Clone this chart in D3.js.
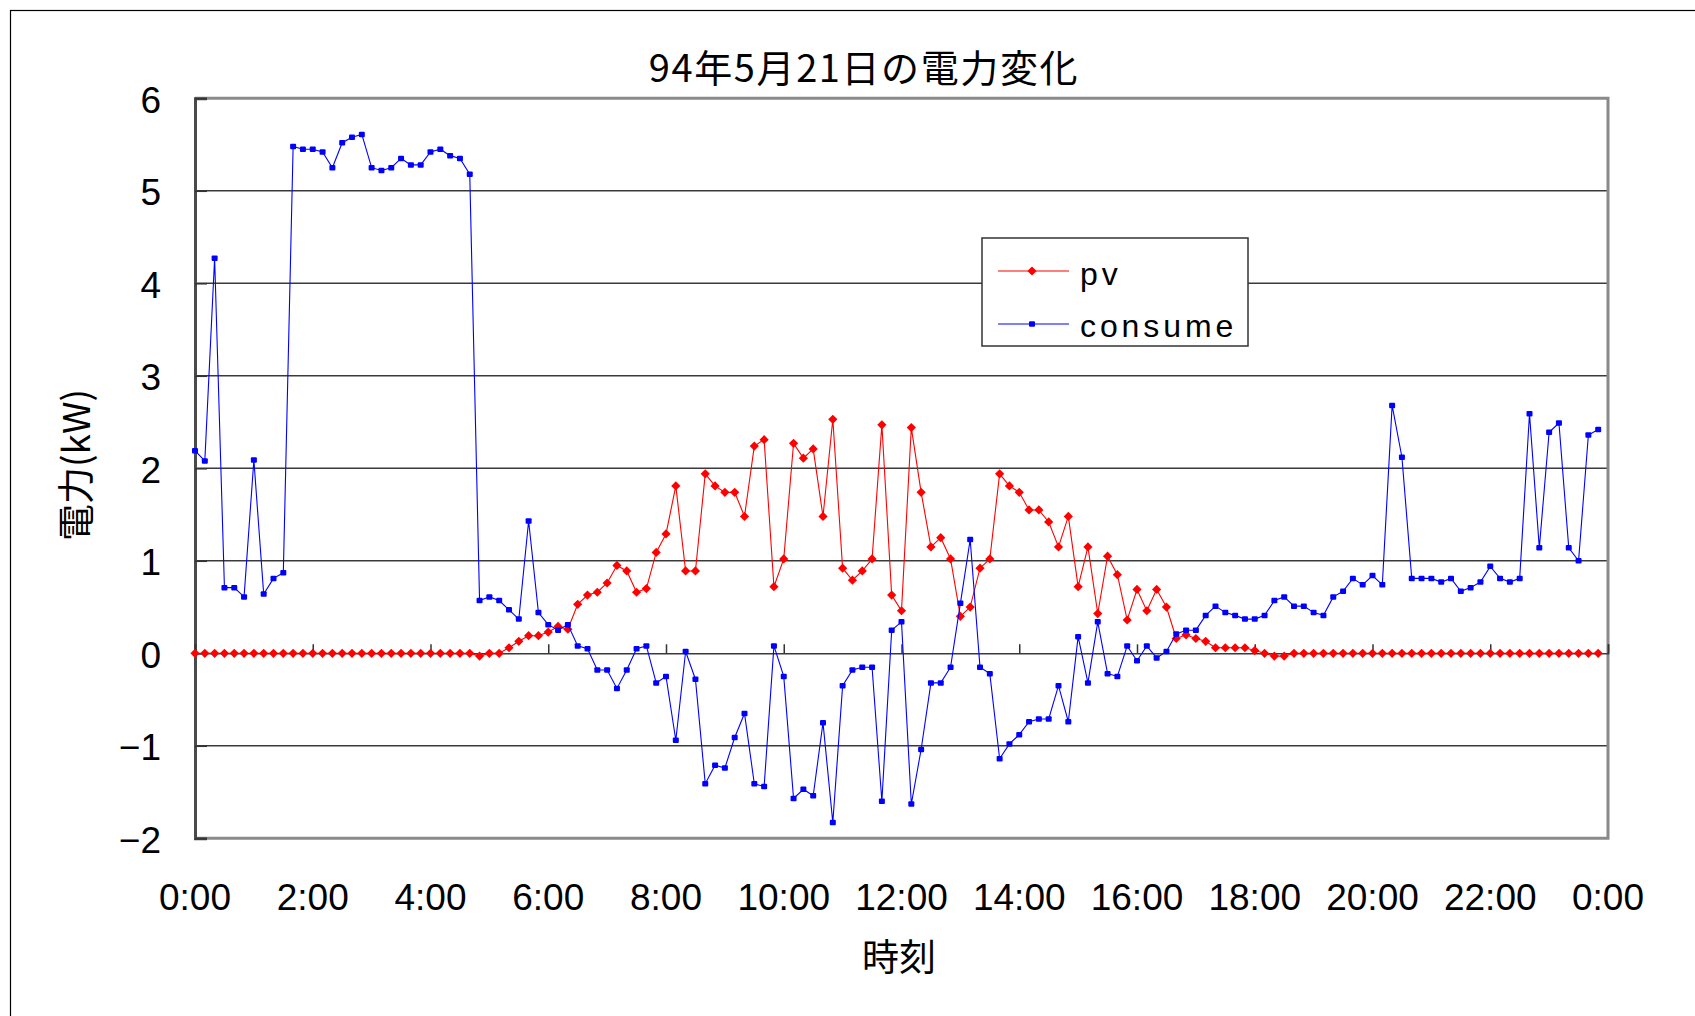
<!DOCTYPE html>
<html>
<head>
<meta charset="utf-8">
<script src="https://cdn.jsdelivr.net/npm/d3@7/dist/d3.min.js"></script>
<style>
  html, body { margin: 0; padding: 0; background: #fff; }
  svg { display: block; }
</style>
</head>
<body>
<svg id="chart" width="1695" height="1016"></svg>
<script>
// ---- data ----
const title = "94年5月21日の電力変化";
const xTitle = "時刻";
const yTitle = "電力(kW)";
const seriesNames = ["pv", "consume"];

const times = [
  "0:00","0:10","0:20","0:30","0:40","0:50","1:00","1:10","1:20","1:30","1:40","1:50",
  "2:00","2:10","2:20","2:30","2:40","2:50","3:00","3:10","3:20","3:30","3:40","3:50",
  "4:00","4:10","4:20","4:30","4:40","4:50","5:00","5:10","5:20","5:30","5:40","5:50",
  "6:00","6:10","6:20","6:30","6:40","6:50","7:00","7:10","7:20","7:30","7:40","7:50",
  "8:00","8:10","8:20","8:30","8:40","8:50","9:00","9:10","9:20","9:30","9:40","9:50",
  "10:00","10:10","10:20","10:30","10:40","10:50","11:00","11:10","11:20","11:30","11:40","11:50",
  "12:00","12:10","12:20","12:30","12:40","12:50","13:00","13:10","13:20","13:30","13:40","13:50",
  "14:00","14:10","14:20","14:30","14:40","14:50","15:00","15:10","15:20","15:30","15:40","15:50",
  "16:00","16:10","16:20","16:30","16:40","16:50","17:00","17:10","17:20","17:30","17:40","17:50",
  "18:00","18:10","18:20","18:30","18:40","18:50","19:00","19:10","19:20","19:30","19:40","19:50",
  "20:00","20:10","20:20","20:30","20:40","20:50","21:00","21:10","21:20","21:30","21:40","21:50",
  "22:00","22:10","22:20","22:30","22:40","22:50","23:00","23:10","23:20","23:30","23:40","23:50"
];

const pv = [
  0,0,0,0,0,0,0,0,0,0,0,0,
  0,0,0,0,0,0,0,0,0,0,0,0,
  0,0,0,0,0,-0.03,0,0,0.06,0.13,0.19,0.19,
  0.23,0.29,0.26,0.53,0.63,0.66,0.76,0.95,0.89,0.66,0.70,1.09,
  1.29,1.81,0.89,0.89,1.94,1.81,1.74,1.74,1.48,2.24,2.31,0.72,
  1.02,2.27,2.11,2.21,1.48,2.53,0.92,0.79,0.89,1.02,2.47,0.63,
  0.46,2.44,1.74,1.15,1.25,1.02,0.40,0.50,0.92,1.02,1.94,1.81,
  1.74,1.55,1.55,1.42,1.15,1.48,0.72,1.15,0.43,1.05,0.85,0.36,
  0.69,0.46,0.69,0.50,0.16,0.20,0.16,0.13,0.06,0.06,0.06,0.06,
  0.03,0,-0.03,-0.03,0,0,0,0,0,0,0,0,
  0,0,0,0,0,0,0,0,0,0,0,0,
  0,0,0,0,0,0,0,0,0,0,0,0
];

const consume = [
  2.19,2.08,4.27,0.71,0.71,0.61,2.09,0.64,0.81,0.87,5.48,5.45,
  5.45,5.42,5.25,5.52,5.58,5.61,5.25,5.22,5.25,5.35,5.28,5.28,
  5.42,5.45,5.38,5.35,5.18,0.57,0.61,0.57,0.47,0.37,1.43,0.44,
  0.31,0.25,0.31,0.08,0.05,-0.18,-0.18,-0.38,-0.18,0.05,0.08,-0.32,
  -0.25,-0.94,0.02,-0.28,-1.41,-1.21,-1.24,-0.91,-0.65,-1.41,-1.44,0.08,
  -0.25,-1.57,-1.47,-1.54,-0.75,-1.83,-0.35,-0.18,-0.15,-0.15,-1.60,0.25,
  0.34,-1.63,-1.04,-0.32,-0.32,-0.15,0.54,1.23,-0.15,-0.22,-1.14,-0.98,
  -0.88,-0.74,-0.71,-0.71,-0.35,-0.74,0.18,-0.32,0.34,-0.22,-0.25,0.08,
  -0.08,0.08,-0.05,0.02,0.21,0.25,0.25,0.41,0.51,0.44,0.41,0.37,
  0.37,0.41,0.57,0.61,0.51,0.51,0.44,0.41,0.61,0.67,0.81,0.74,
  0.84,0.74,2.68,2.12,0.81,0.81,0.81,0.77,0.81,0.67,0.71,0.77,
  0.94,0.81,0.77,0.81,2.59,1.14,2.39,2.49,1.14,1.00,2.36,2.42
];

const xTickMinutes = [0,120,240,360,480,600,720,840,960,1080,1200,1320,1440];
const xTickLabels = ["0:00","2:00","4:00","6:00","8:00","10:00","12:00","14:00","16:00","18:00","20:00","22:00","0:00"];
const yTicks = [6,5,4,3,2,1,0,-1,-2];

// ---- layout ----
const plotL = 195, plotR = 1608, plotT = 98.3, plotB = 838.3;
const toMin = t => { const p = t.split(":"); return (+p[0]) * 60 + (+p[1]); };

const svg = d3.select("#chart");
const x = d3.scaleLinear().domain([0, 1440]).range([plotL, plotR]);
const y = d3.scaleLinear().domain([-2, 6]).range([plotB, plotT]);

const jp = "'Noto Sans CJK JP', 'Noto Sans', sans-serif";
const lat = "'Liberation Sans', Arial, sans-serif";

// outer chart border
svg.append("rect").attr("x", 10.5).attr("y", 10.5).attr("width", 1800).attr("height", 1200)
  .attr("fill", "#fff").attr("stroke", "#000").attr("stroke-width", 1.2);

// plot area background
svg.append("rect").attr("x", plotL).attr("y", plotT).attr("width", plotR - plotL).attr("height", plotB - plotT)
  .attr("fill", "#fff");

// gridlines
svg.append("g").selectAll("line").data(yTicks.filter(v => v !== 6 && v !== -2 && v !== 0)).join("line")
  .attr("x1", plotL).attr("x2", plotR)
  .attr("y1", d => y(d)).attr("y2", d => y(d))
  .attr("stroke", "#3a3a3a").attr("stroke-width", 1.4);

// plot border (top, right, bottom)
svg.append("path")
  .attr("d", `M${plotL},${plotT}H${plotR}V${plotB}H${plotL}`)
  .attr("fill", "none").attr("stroke", "#8a8a8a").attr("stroke-width", 3);

// y axis
const yAxis = d3.axisRight(y).tickValues(yTicks).tickSize(12).tickFormat("");
const gy = svg.append("g").attr("transform", `translate(${plotL},0)`).call(yAxis);
gy.select(".domain").attr("stroke", "#4a4a4a").attr("stroke-width", 3);
gy.selectAll(".tick line").attr("stroke", "#333").attr("stroke-width", 1.5);

// y tick labels
svg.append("g").selectAll("text").data(yTicks).join("text")
  .attr("x", 161).attr("y", d => y(d) + 2)
  .attr("text-anchor", "end").attr("dominant-baseline", "central")
  .attr("font-family", lat).attr("font-size", 37).attr("fill", "#000")
  .text(d => d < 0 ? "\u2212" + Math.abs(d) : String(d));

// x axis at zero
const xAxis = d3.axisTop(x).tickValues(xTickMinutes).tickSize(9).tickFormat("");
const gx = svg.append("g").attr("transform", `translate(0,${y(0)})`).call(xAxis);
gx.select(".domain").attr("stroke", "#3a3a3a").attr("stroke-width", 1.5);
gx.selectAll(".tick line").attr("stroke", "#333").attr("stroke-width", 1.5);

// x tick labels
svg.append("g").selectAll("text").data(xTickMinutes).join("text")
  .attr("x", d => x(d)).attr("y", 910)
  .attr("text-anchor", "middle")
  .attr("font-family", lat).attr("font-size", 37).attr("fill", "#000")
  .text((d, i) => xTickLabels[i]);

// titles
svg.append("text").attr("x", 864).attr("y", 65).attr("text-anchor", "middle")
  .attr("dominant-baseline", "central")
  .attr("font-family", jp).attr("font-size", 38).attr("letter-spacing", 1.6)
  .attr("fill", "#000").text(title);

svg.append("text").attr("x", 899).attr("y", 955).attr("text-anchor", "middle")
  .attr("dominant-baseline", "central")
  .attr("font-family", jp).attr("font-size", 37).attr("fill", "#000").text(xTitle);

svg.append("text").attr("transform", "translate(74,465) rotate(-90)")
  .attr("text-anchor", "middle").attr("dominant-baseline", "central")
  .attr("font-family", jp).attr("font-size", 37).attr("fill", "#000").text(yTitle);

// series
const pvData = times.map((t, i) => ({ m: toMin(t), v: pv[i] }));
const coData = times.map((t, i) => ({ m: toMin(t), v: consume[i] }));
const line = d3.line().x(d => x(d.m)).y(d => y(d.v));

const diamond = "M0,-4.6L4.6,0L0,4.6L-4.6,0Z";
const sqW = 6, sqH = 5.5;

svg.append("path").datum(pvData).attr("d", line)
  .attr("fill", "none").attr("stroke", "#ff0000").attr("stroke-width", 1.1);
svg.append("g").selectAll("path").data(pvData).join("path")
  .attr("d", diamond).attr("transform", d => `translate(${x(d.m)},${y(d.v)})`)
  .attr("fill", "#ff0000");

svg.append("path").datum(coData).attr("d", line)
  .attr("fill", "none").attr("stroke", "#0000ff").attr("stroke-width", 1.1);
svg.append("g").selectAll("rect").data(coData).join("rect")
  .attr("x", d => x(d.m) - sqW / 2).attr("y", d => y(d.v) - sqH / 2)
  .attr("width", sqW).attr("height", sqH).attr("rx", 1).attr("fill", "#0000ff");

// legend
const lg = svg.append("g");
lg.append("rect").attr("x", 982).attr("y", 238).attr("width", 266).attr("height", 108)
  .attr("fill", "#fff").attr("stroke", "#333").attr("stroke-width", 1.5);
const legendItems = [
  { name: seriesNames[0], color: "#ff0000", ly: 271, ty: 285, marker: "diamond" },
  { name: seriesNames[1], color: "#0000ff", ly: 324, ty: 337, marker: "square" }
];
legendItems.forEach(it => {
  lg.append("line").attr("x1", 998).attr("x2", 1069).attr("y1", it.ly).attr("y2", it.ly)
    .attr("stroke", it.color).attr("stroke-width", 1.2);
  if (it.marker === "diamond") {
    lg.append("path").attr("d", diamond).attr("transform", `translate(1032,${it.ly})`).attr("fill", it.color);
  } else {
    lg.append("rect").attr("x", 1032 - sqW / 2).attr("y", it.ly - sqH / 2).attr("width", sqW).attr("height", sqH)
      .attr("rx", 1).attr("fill", it.color);
  }
  lg.append("text").attr("x", 1080).attr("y", it.ty)
    .attr("font-family", lat).attr("font-size", 32).attr("letter-spacing", 3.9)
    .attr("fill", "#000").text(it.name);
});
</script>
</body>
</html>
